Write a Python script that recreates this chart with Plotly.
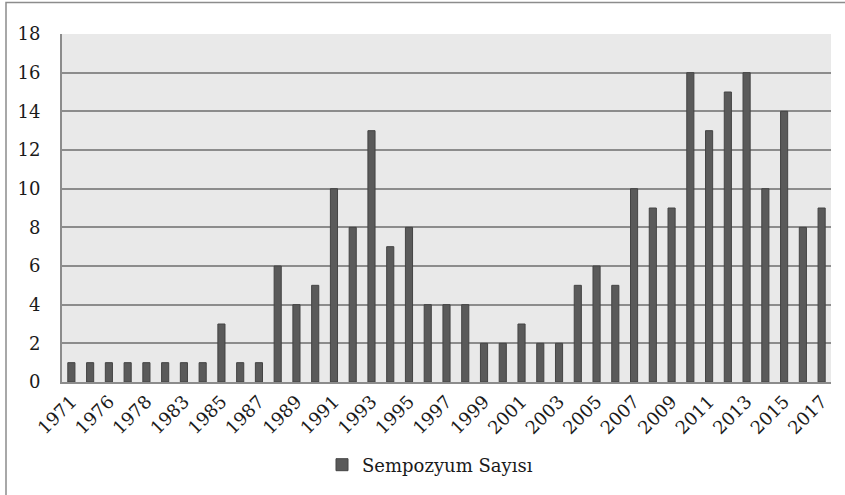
import plotly.graph_objects as go

years = ["1971", "1974", "1976", "1977", "1978", "1981", "1983", "1984",
         "1985", "1986", "1987", "1988", "1989", "1990", "1991", "1992",
         "1993", "1994", "1995", "1996", "1997", "1998", "1999", "2000",
         "2001", "2002", "2003", "2004", "2005", "2006", "2007", "2008",
         "2009", "2010", "2011", "2012", "2013", "2014", "2015", "2016", "2017"]
counts = [1, 1, 1, 1, 1, 1, 1, 1, 3, 1, 1, 6, 4, 5, 10, 8, 13, 7, 8, 4, 4, 4,
          2, 2, 3, 2, 2, 5, 6, 5, 10, 9, 9, 16, 13, 15, 16, 10, 14, 8, 9]
tick_labels = years[::2]
y_ticks = [0, 2, 4, 6, 8, 10, 12, 14, 16, 18]
series_name = "Sempozyum Sayısı"

W, H = 845, 495
L, R, T, B = 62, 14, 34, 113
pw, ph = W - L - R, H - T - B

fig = go.Figure()
fig.add_trace(go.Bar(
    x=years, y=counts, name=series_name,
    marker=dict(color="#5a5a5a", line=dict(color="#444444", width=1)),
    showlegend=True,
))

font = "DejaVu Serif, Cambria, serif"
fsize = 18
fig.update_layout(
    width=W, height=H,
    margin=dict(l=L, r=R, t=T, b=B),
    paper_bgcolor="white",
    plot_bgcolor="#e9e9e9",
    bargap=0.62,
    font=dict(family=font, size=fsize, color="#1a1a1a"),
    showlegend=True,
    legend=dict(orientation="h", x=(322 - L) / pw, xanchor="left",
                y=(ph - (465 - T)) / ph, yanchor="middle",
                font=dict(family=font, size=fsize, color="#1a1a1a"),
                itemwidth=30, bgcolor="rgba(0,0,0,0)"),
    xaxis=dict(
        type="category", tickmode="array", tickvals=tick_labels,
        ticktext=tick_labels, tickangle=-45, showgrid=False,
        showline=True, linecolor="#8c8c8c", linewidth=2, ticks="",
        tickfont=dict(family=font, size=fsize, color="#1a1a1a"),
        range=[-0.5, len(years) - 0.5],
    ),
    yaxis=dict(
        range=[0, 18], tickmode="array", tickvals=y_ticks,
        showgrid=True, gridcolor="#8c8c8c", gridwidth=2,
        showline=True, linecolor="#8c8c8c", linewidth=2, ticks="",
        zeroline=False,
        tickfont=dict(family=font, size=fsize, color="#1a1a1a"),
        ticklabelstandoff=16,
    ),
)

# outer chart frame (left & top visible in reference)
fig.add_shape(type="rect", xref="paper", yref="paper",
              x0=(6 - L) / pw, x1=(W + 20 - L) / pw,
              y0=-(B + 20) / ph, y1=(ph + T - 2.5) / ph,
              line=dict(color="#8c8c8c", width=1.5), fillcolor="rgba(0,0,0,0)",
              layer="below")

fig.write_html("out.html",
               config={"displayModeBar": False},
               post_script="document.body.style.margin='0';document.body.style.padding='0';")
